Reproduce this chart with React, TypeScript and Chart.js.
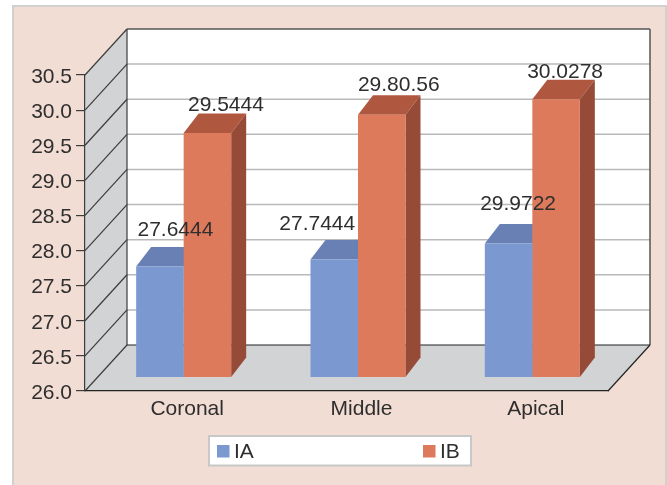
import React, { useEffect, useRef } from "react";
import { Chart, registerables } from "chart.js";

Chart.register(...registerables);

const categories = ["Coronal", "Middle", "Apical"];
// Apical IA stands at about 28 on the axis while its printed label says 29.9722,
// so the column uses 27.9722; Middle IB's printed "29.80.56" is drawn as 29.8056.
const seriesIA = [27.6444, 27.7444, 27.9722];
const seriesIB = [29.5444, 29.8056, 30.0278];
const labelsIA = ["27.6444", "27.7444", "29.9722"];
const labelsIB = ["29.5444", "29.80.56", "30.0278"];

const FONT = "'Liberation Sans', Arial, sans-serif";
const TEXT = "#2e2e2e";
const DARK = "#3c3c3c";
const WALL = "#d1d3d4";

// Projection of the back wall relative to the front axes.
const WALL_DX = 42;
const WALL_DY = -46;
// Placement of the columns inside the box and their own depth.
const BAR_DX = 11.5;
const BAR_DY = -9;
const BAR_DEPTH_X = 15;
const BAR_DEPTH_Y = -19.5;
const BAR_BASE = 26.07;

// Hand placed value labels: offset from the centre of the column's front top edge.
const nudgeIA = [[15.5, -31], [-17, -30], [9.5, -34]];
const nudgeIB = [[18.5, -22], [17, -24], [9, -21]];

const shades = [
  { top: "#6880b4", side: "#5c72a2" },
  { top: "#b0573f", side: "#964b38" },
];

function poly(ctx: CanvasRenderingContext2D, pts: number[][], fill: string) {
  ctx.beginPath();
  pts.forEach(([x, y], i) => (i ? ctx.lineTo(x, y) : ctx.moveTo(x, y)));
  ctx.closePath();
  ctx.fillStyle = fill;
  ctx.fill();
}

function line(ctx: CanvasRenderingContext2D, x0: number, y0: number, x1: number, y1: number, color: string, w = 1) {
  ctx.beginPath();
  ctx.moveTo(x0, y0);
  ctx.lineTo(x1, y1);
  ctx.strokeStyle = color;
  ctx.lineWidth = w;
  ctx.stroke();
}

// Back wall, side wall, floor and their grid lines, drawn below the axes.
const boxPlugin = {
  id: "box",
  beforeDraw(chart: any) {
    const { ctx, chartArea: a, scales } = chart;
    const y = scales.y;
    ctx.save();
    const bx = a.left + WALL_DX;
    const rx = a.right + WALL_DX;
    const ty = a.top + WALL_DY;
    const by = a.bottom + WALL_DY;
    poly(ctx, [[bx, ty], [rx, ty], [rx, by], [bx, by]], "#ffffff");
    poly(ctx, [[a.left, a.bottom], [a.left, a.top], [bx, ty], [bx, by]], WALL);
    poly(ctx, [[a.left, a.bottom], [bx, by], [rx, by], [a.right, a.bottom]], WALL);
    y.ticks.forEach((t: any) => {
      const py = y.getPixelForValue(t.value);
      if (t.value > y.min && t.value < y.max) {
        line(ctx, bx, py + WALL_DY, rx, py + WALL_DY, "#b9b9b9", 1.5);
      }
      line(ctx, a.left, py, bx, py + WALL_DY, DARK, 1.2);
    });
    line(ctx, bx, ty, rx, ty, "#555555", 1.5);
    line(ctx, rx, ty, rx, by, "#555555", 1.5);
    line(ctx, bx, ty, bx, by, DARK, 1.2);
    line(ctx, bx, by, rx, by, "#222222", 1.2);
    line(ctx, rx, by, a.right, a.bottom, "#222222", 1.2);
    ctx.restore();
  },
  // Tops and sides of every column go down first, left series before right.
  beforeDatasetsDraw(chart: any) {
    const { ctx } = chart;
    ctx.save();
    ctx.translate(BAR_DX, BAR_DY);
    shades.forEach((shade, ds) => {
      chart.getDatasetMeta(ds).data.forEach((bar: any) => {
        const l = bar.x - bar.width / 2;
        const r = bar.x + bar.width / 2;
        poly(ctx, [[l, bar.y], [l + BAR_DEPTH_X, bar.y + BAR_DEPTH_Y], [r + BAR_DEPTH_X, bar.y + BAR_DEPTH_Y], [r, bar.y]], shade.top);
        poly(ctx, [[r, bar.y], [r + BAR_DEPTH_X, bar.y + BAR_DEPTH_Y], [r + BAR_DEPTH_X, bar.base + BAR_DEPTH_Y], [r, bar.base]], shade.side);
      });
    });
    ctx.restore();
  },
  // Front faces share the same shift as the extrusion.
  beforeDatasetDraw(chart: any) {
    chart.ctx.save();
    chart.ctx.translate(BAR_DX, BAR_DY);
  },
  afterDatasetDraw(chart: any) {
    chart.ctx.restore();
  },
  afterDatasetsDraw(chart: any) {
    const { ctx } = chart;
    ctx.save();
    ctx.font = `21px ${FONT}`;
    ctx.fillStyle = TEXT;
    ctx.textAlign = "center";
    ctx.textBaseline = "alphabetic";
    [labelsIA, labelsIB].forEach((texts, ds) => {
      const nudges = ds === 0 ? nudgeIA : nudgeIB;
      chart.getDatasetMeta(ds).data.forEach((bar: any, i: number) => {
        ctx.fillText(texts[i], bar.x + BAR_DX + nudges[i][0], bar.y + BAR_DY + nudges[i][1]);
      });
    });
    ctx.restore();
  },
  // Boxed legend with widely spaced entries.
  afterDraw(chart: any) {
    const { ctx } = chart;
    ctx.save();
    ctx.fillStyle = "#ffffff";
    ctx.strokeStyle = "#c8c8c8";
    ctx.lineWidth = 2;
    ctx.fillRect(209, 436, 262, 29.5);
    ctx.strokeRect(209, 436, 262, 29.5);
    ctx.font = `21px ${FONT}`;
    ctx.textBaseline = "alphabetic";
    ctx.textAlign = "left";
    [217, 423].forEach((x, i) => {
      const ds = chart.data.datasets[i];
      ctx.fillStyle = ds.backgroundColor;
      ctx.fillRect(x, 445, 12.5, 12.5);
      ctx.fillStyle = TEXT;
      ctx.fillText(ds.label, x + 17, 457.5);
    });
    ctx.restore();
  },
};

export default function App() {
  const ref = useRef<HTMLCanvasElement>(null);

  useEffect(() => {
    const chart = new Chart(ref.current as HTMLCanvasElement, {
      type: "bar",
      plugins: [boxPlugin],
      data: {
        labels: categories,
        datasets: [
          { label: "IA", data: seriesIA, backgroundColor: "#7b99d0", base: BAR_BASE, clip: false },
          { label: "IB", data: seriesIB, backgroundColor: "#de7a5c", base: BAR_BASE, clip: false },
        ],
      } as any,
      options: {
        animation: false,
        responsive: false,
        events: [],
        layout: { padding: { left: 0, top: 75, right: 59, bottom: 50 } },
        datasets: { bar: { categoryPercentage: 0.545, barPercentage: 1 } },
        plugins: { legend: { display: false }, tooltip: { enabled: false }, title: { display: false } },
        scales: {
          x: {
            grid: { drawOnChartArea: false, drawTicks: false },
            border: { color: "#222222", width: 1.2 },
            ticks: { color: TEXT, font: { size: 21, family: FONT }, padding: 6, labelOffset: 15, maxRotation: 0 },
            afterFit(scale: any) {
              scale.height = 44;
            },
          },
          y: {
            min: 26,
            max: 30.5,
            grid: { drawOnChartArea: false, color: DARK, tickLength: 9, lineWidth: 1.2 },
            border: { color: DARK, width: 1.2 },
            ticks: {
              stepSize: 0.5,
              color: TEXT,
              padding: 4,
              labelOffset: 2,
              font: { size: 21, family: FONT },
              callback: (v: any) => Number(v).toFixed(1),
            },
            afterFit(scale: any) {
              scale.width = 85;
            },
          },
        },
      },
    } as any);
    return () => chart.destroy();
  }, []);

  return (
    <div style={{ position: "fixed", left: 0, top: 0, width: 667, height: 485, overflow: "hidden", background: "#ffffff" }}>
      <div
        style={{
          position: "absolute",
          left: 12,
          top: 5,
          width: 651,
          height: 500,
          background: "#f2ddd4",
          border: "2px solid #d2d0cf",
        }}
      />
      <canvas ref={ref} width={667} height={485} style={{ position: "absolute", left: 0, top: 0, display: "block" }} />
    </div>
  );
}
